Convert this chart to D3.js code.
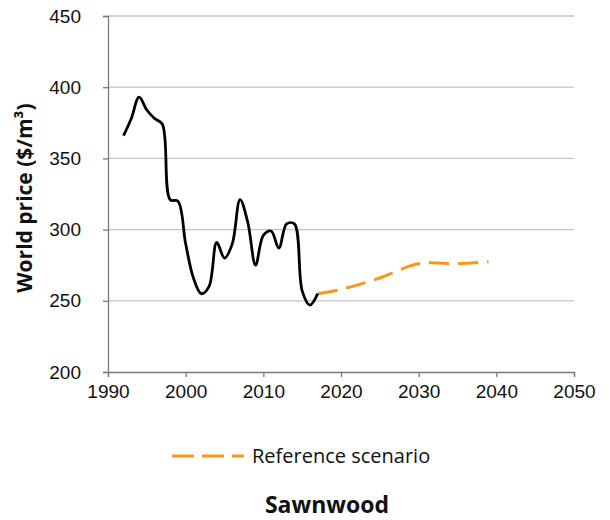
<!DOCTYPE html>
<html>
<head>
<meta charset="utf-8">
<script src="https://cdn.jsdelivr.net/npm/d3@7/dist/d3.min.js"></script>
<style>
  body { margin: 0; background: #fff; }
  svg { display: block; font-family: "Open Sans", "DejaVu Sans", sans-serif; }
  .tick text { font-size: 19px; fill: #111; }
</style>
</head>
<body>
<svg id="chart" width="610" height="520"></svg>
<script>
// historical world price, annual
var histYears = [1992, 1993, 1994, 1995, 1996, 1997, 1998, 1999, 2000, 2001, 2002, 2003, 2004,
                 2005, 2006, 2007, 2008, 2009, 2010, 2011, 2012, 2013, 2014, 2015, 2016, 2017];
var histPrice = [366, 378, 393, 384, 378, 374, 321, 320, 290, 266, 255, 260, 291,
                 280, 290, 321, 305, 275, 296, 299, 287, 304, 304, 257, 247, 255];

// reference scenario projection
var refYears = [2017, 2020, 2025, 2030, 2035, 2039];
var refPrice = [255, 258, 266, 276, 276, 277.5];

var xTicks = [1990, 2000, 2010, 2020, 2030, 2040, 2050];
var yTicks = [200, 250, 300, 350, 400, 450];

var svg = d3.select("#chart");
var plot = { left: 108, right: 574, top: 16, bottom: 372 };

var x = d3.scaleLinear().domain([1990, 2050]).range([plot.left, plot.right]);
var y = d3.scaleLinear().domain([200, 450]).range([plot.bottom, plot.top]);

// gridlines
svg.append("g")
  .selectAll("line")
  .data(yTicks.slice(1))
  .enter()
  .append("line")
  .attr("x1", plot.left).attr("x2", plot.right)
  .attr("y1", function(d) { return y(d); })
  .attr("y2", function(d) { return y(d); })
  .attr("stroke", "#c4c4c4")
  .attr("stroke-width", 1.3);

// axes
var yAxis = svg.append("g")
  .attr("transform", "translate(" + plot.left + ",0)")
  .call(d3.axisLeft(y).tickValues(yTicks).tickSize(5).tickPadding(22).tickFormat(d3.format("d")));
var xAxis = svg.append("g")
  .attr("transform", "translate(0," + plot.bottom + ")")
  .call(d3.axisBottom(x).tickValues(xTicks).tickSize(5).tickPadding(8).tickFormat(d3.format("d")));
[xAxis, yAxis].forEach(function(a) {
  a.select(".domain").attr("stroke", "#7a7a7a").attr("stroke-width", 1.3);
  a.selectAll(".tick line").attr("stroke", "#7a7a7a").attr("stroke-width", 1.3);
});
yAxis.selectAll(".tick text").attr("text-anchor", "end").attr("x", -27);

var line = d3.line()
  .x(function(d) { return x(d[0]); })
  .y(function(d) { return y(d[1]); })
  .curve(d3.curveCatmullRom);

svg.append("path")
  .datum(d3.zip(refYears, refPrice))
  .attr("d", line)
  .attr("fill", "none")
  .attr("stroke", "#f7981d")
  .attr("stroke-width", 3)
  .attr("stroke-dasharray", "20,9");

svg.append("path")
  .datum(d3.zip(histYears, histPrice))
  .attr("d", line)
  .attr("fill", "none")
  .attr("stroke", "#000")
  .attr("stroke-width", 2.8)
  .attr("stroke-linejoin", "round");

// y axis title
svg.append("text")
  .attr("transform", "translate(32,198) rotate(-90)")
  .attr("text-anchor", "middle")
  .attr("font-size", 21)
  .attr("font-weight", "bold")
  .attr("fill", "#111")
  .text("World price ($/m³)");

// legend
svg.append("line")
  .attr("x1", 172).attr("x2", 244)
  .attr("y1", 456).attr("y2", 456)
  .attr("stroke", "#f7981d")
  .attr("stroke-width", 3)
  .attr("stroke-dasharray", "22,8");
svg.append("text")
  .attr("x", 252).attr("y", 463)
  .attr("font-size", 20)
  .attr("fill", "#111")
  .text("Reference scenario");

// chart title
svg.append("text")
  .attr("x", 327).attr("y", 513)
  .attr("text-anchor", "middle")
  .attr("font-size", 23)
  .attr("font-weight", "bold")
  .attr("fill", "#111")
  .text("Sawnwood");
</script>
</body>
</html>
